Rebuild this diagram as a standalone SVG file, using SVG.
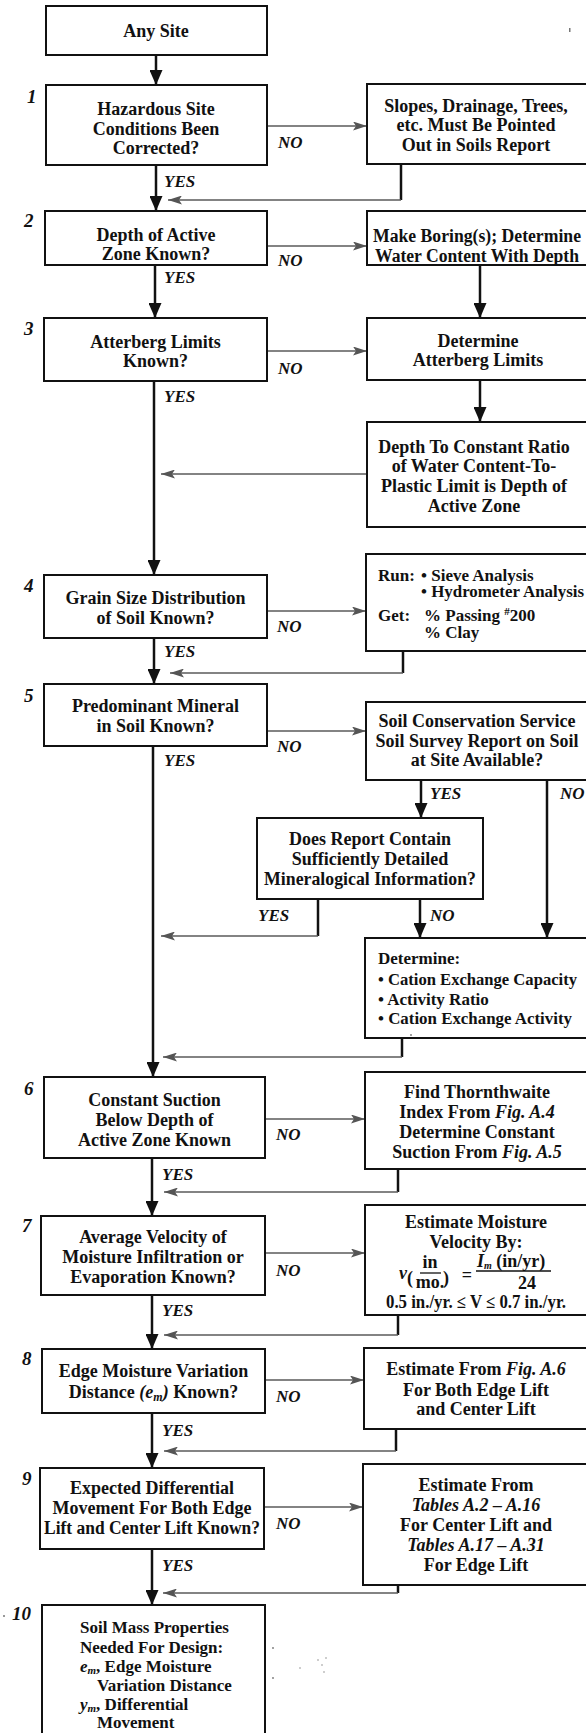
<svg xmlns="http://www.w3.org/2000/svg" width="586" height="1733" viewBox="0 0 586 1733">
  <style>
    .box { fill: #fff; stroke: #111; stroke-width: 2; }
    .t { font-family: "Liberation Serif", "Times New Roman", serif; font-size: 18px; font-weight: bold; fill: #111; text-anchor: middle; }
    .s { font-size: 17px; }
    .l { text-anchor: start; }
    .i { font-style: italic; }
    .lab { font-family: "Liberation Serif", "Times New Roman", serif; font-size: 17px; font-weight: bold; font-style: italic; fill: #111; }
    .num { font-family: "Liberation Serif", "Times New Roman", serif; font-size: 19px; font-weight: bold; font-style: italic; fill: #111; }
    .main { stroke: #111; stroke-width: 2.5; fill: none; }
    .no { stroke: #5a5a5a; stroke-width: 1.6; fill: none; }
    .bar { stroke: #111; stroke-width: 1.3; }
    .speck { fill: #777; }
  </style>
  <defs>
    <marker id="ah" markerUnits="userSpaceOnUse" markerWidth="16" markerHeight="13" refX="15" refY="6.5" orient="auto">
      <path d="M0,0 L15,6.5 L0,13 z" fill="#111"/>
    </marker>
    <marker id="ahg" markerUnits="userSpaceOnUse" markerWidth="15" markerHeight="9" refX="14" refY="4.5" orient="auto">
      <path d="M0,0 L14,4.5 L0,9 L3,4.5 z" fill="#555"/>
    </marker>
  </defs>
  <rect width="586" height="1733" fill="#fff"/>

  <!-- connectors -->
  <g id="connectors">
    <!-- main YES spine -->
    <line class="main" x1="156" y1="55" x2="156" y2="85" marker-end="url(#ah)"/>
    <line class="main" x1="156" y1="165" x2="156" y2="211" marker-end="url(#ah)"/>
    <line class="main" x1="155" y1="265" x2="155" y2="318" marker-end="url(#ah)"/>
    <line class="main" x1="154" y1="381" x2="154" y2="575" marker-end="url(#ah)"/>
    <line class="main" x1="154" y1="638" x2="154" y2="684" marker-end="url(#ah)"/>
    <line class="main" x1="153" y1="746" x2="153" y2="1077" marker-end="url(#ah)"/>
    <line class="main" x1="152" y1="1158" x2="152" y2="1216" marker-end="url(#ah)"/>
    <line class="main" x1="152" y1="1295" x2="152" y2="1349" marker-end="url(#ah)"/>
    <line class="main" x1="152" y1="1413" x2="152" y2="1468" marker-end="url(#ah)"/>
    <line class="main" x1="152" y1="1549" x2="152" y2="1605" marker-end="url(#ah)"/>

    <!-- NO branches -->
    <line class="no" x1="267" y1="126" x2="367" y2="126" marker-end="url(#ahg)"/>
    <line class="no" x1="267" y1="246" x2="367" y2="246" marker-end="url(#ahg)"/>
    <line class="no" x1="267" y1="351" x2="367" y2="351" marker-end="url(#ahg)"/>
    <line class="no" x1="267" y1="611" x2="366" y2="611" marker-end="url(#ahg)"/>
    <line class="no" x1="267" y1="731" x2="366" y2="731" marker-end="url(#ahg)"/>
    <line class="no" x1="265" y1="1119" x2="365" y2="1119" marker-end="url(#ahg)"/>
    <line class="no" x1="265" y1="1253" x2="365" y2="1253" marker-end="url(#ahg)"/>
    <line class="no" x1="265" y1="1380" x2="364" y2="1380" marker-end="url(#ahg)"/>
    <line class="no" x1="264" y1="1507" x2="363" y2="1507" marker-end="url(#ahg)"/>

    <!-- returns to the spine -->
    <line class="main" x1="401" y1="164" x2="401" y2="200"/>
    <line class="no" x1="401" y1="200" x2="168" y2="200" marker-end="url(#ahg)"/>
    <line class="no" x1="367" y1="474" x2="161" y2="474" marker-end="url(#ahg)"/>
    <line class="main" x1="403" y1="651" x2="403" y2="673"/>
    <line class="no" x1="403" y1="673" x2="170" y2="673" marker-end="url(#ahg)"/>
    <line class="main" x1="318" y1="899" x2="318" y2="936"/>
    <line class="no" x1="318" y1="936" x2="161" y2="936" marker-end="url(#ahg)"/>
    <line class="main" x1="402" y1="1038" x2="402" y2="1057"/>
    <line class="no" x1="402" y1="1057" x2="163" y2="1057" marker-end="url(#ahg)"/>
    <line class="main" x1="398" y1="1169" x2="398" y2="1192"/>
    <line class="no" x1="398" y1="1192" x2="164" y2="1192" marker-end="url(#ahg)"/>
    <line class="main" x1="398" y1="1315" x2="398" y2="1335"/>
    <line class="no" x1="398" y1="1335" x2="164" y2="1335" marker-end="url(#ahg)"/>
    <line class="main" x1="396" y1="1429" x2="396" y2="1451"/>
    <line class="no" x1="396" y1="1451" x2="164" y2="1451" marker-end="url(#ahg)"/>
    <line class="main" x1="398" y1="1585" x2="398" y2="1593"/>
    <line class="no" x1="398" y1="1593" x2="163" y2="1593" marker-end="url(#ahg)"/>

    <!-- right-hand column links -->
    <line class="main" x1="480" y1="265" x2="480" y2="318" marker-end="url(#ah)"/>
    <line class="main" x1="480" y1="380" x2="480" y2="422" marker-end="url(#ah)"/>
    <line class="main" x1="421" y1="780" x2="421" y2="818" marker-end="url(#ah)"/>
    <line class="main" x1="547" y1="780" x2="547" y2="938" marker-end="url(#ah)"/>
    <line class="main" x1="420" y1="899" x2="420" y2="938" marker-end="url(#ah)"/>

    <!-- branch labels -->
    <text class="lab" x="164" y="187">YES</text>
    <text class="lab" x="164" y="283">YES</text>
    <text class="lab" x="164" y="402">YES</text>
    <text class="lab" x="164" y="657">YES</text>
    <text class="lab" x="164" y="766">YES</text>
    <text class="lab" x="162" y="1180">YES</text>
    <text class="lab" x="162" y="1316">YES</text>
    <text class="lab" x="162" y="1436">YES</text>
    <text class="lab" x="162" y="1571">YES</text>
    <text class="lab" x="278" y="148">NO</text>
    <text class="lab" x="278" y="266">NO</text>
    <text class="lab" x="278" y="374">NO</text>
    <text class="lab" x="277" y="632">NO</text>
    <text class="lab" x="277" y="752">NO</text>
    <text class="lab" x="276" y="1140">NO</text>
    <text class="lab" x="276" y="1276">NO</text>
    <text class="lab" x="276" y="1402">NO</text>
    <text class="lab" x="276" y="1529">NO</text>
    <text class="lab" x="430" y="799">YES</text>
    <text class="lab" x="560" y="799">NO</text>
    <text class="lab" x="258" y="921">YES</text>
    <text class="lab" x="430" y="921">NO</text>
  </g>

  <!-- step numbers -->
  <g id="step-numbers">
    <text class="num" x="27" y="103">1</text>
    <text class="num" x="24" y="227">2</text>
    <text class="num" x="24" y="335">3</text>
    <text class="num" x="24" y="592">4</text>
    <text class="num" x="24" y="702">5</text>
    <text class="num" x="24" y="1095">6</text>
    <text class="num" x="22" y="1232">7</text>
    <text class="num" x="22" y="1365">8</text>
    <text class="num" x="22" y="1485">9</text>
    <text class="num" x="12" y="1620">10</text>
  </g>

  <!-- left column -->
  <g id="any-site">
    <rect class="box" x="46" y="6" width="221" height="49"/>
    <text class="t" x="156" y="37">Any Site</text>
  </g>
  <g id="q1-hazards">
    <rect class="box" x="46" y="85" width="221" height="80"/>
    <text class="t" x="156" y="115">Hazardous Site</text>
    <text class="t" x="156" y="134.5">Conditions Been</text>
    <text class="t" x="156" y="154">Corrected?</text>
  </g>
  <g id="q2-active-zone">
    <rect class="box" x="45" y="211" width="222" height="54"/>
    <text class="t" x="156" y="241">Depth of Active</text>
    <text class="t" x="156" y="260">Zone Known?</text>
  </g>
  <g id="q3-atterberg">
    <rect class="box" x="44" y="318" width="223" height="63"/>
    <text class="t" x="155.5" y="348">Atterberg Limits</text>
    <text class="t" x="155.5" y="367">Known?</text>
  </g>
  <g id="q4-grain-size">
    <rect class="box" x="44" y="575" width="223" height="63"/>
    <text class="t" x="155.5" y="604">Grain Size Distribution</text>
    <text class="t" x="155.5" y="624">of Soil Known?</text>
  </g>
  <g id="q5-mineral">
    <rect class="box" x="44" y="684" width="223" height="62"/>
    <text class="t" x="155.5" y="712">Predominant Mineral</text>
    <text class="t" x="155.5" y="732">in Soil Known?</text>
  </g>
  <g id="q6-suction">
    <rect class="box" x="44" y="1077" width="221" height="81"/>
    <text class="t" x="154.5" y="1106">Constant Suction</text>
    <text class="t" x="154.5" y="1126">Below Depth of</text>
    <text class="t" x="154.5" y="1146">Active Zone Known</text>
  </g>
  <g id="q7-velocity">
    <rect class="box" x="41" y="1216" width="224" height="79"/>
    <text class="t" x="153" y="1243">Average Velocity of</text>
    <text class="t" x="153" y="1263">Moisture Infiltration or</text>
    <text class="t" x="153" y="1283">Evaporation Known?</text>
  </g>
  <g id="q8-edge-distance">
    <rect class="box" x="42" y="1349" width="223" height="64"/>
    <text class="t" x="153.5" y="1377">Edge Moisture Variation</text>
    <text class="t" x="153.5" y="1398">Distance <tspan class="i">(e<tspan font-size="12" dy="3">m</tspan><tspan dy="-3">)</tspan></tspan> Known?</text>
  </g>
  <g id="q9-movement">
    <rect class="box" x="40" y="1468" width="224" height="81"/>
    <text class="t" x="152" y="1494">Expected Differential</text>
    <text class="t" x="152" y="1514">Movement For Both Edge</text>
    <text class="t" x="152" y="1534" textLength="216" lengthAdjust="spacingAndGlyphs">Lift and Center Lift Known?</text>
  </g>
  <g id="step10-properties">
    <path class="box" d="M42,1740 V1605 H265 V1740"/>
    <text class="t l s" x="80" y="1633">Soil Mass Properties</text>
    <text class="t l s" x="80" y="1653">Needed For Design:</text>
    <text class="t l s" x="80" y="1672"><tspan class="i">e<tspan font-size="11" dy="2">m</tspan></tspan><tspan dy="-2">, Edge Moisture</tspan></text>
    <text class="t l s" x="97" y="1691">Variation Distance</text>
    <text class="t l s" x="80" y="1710"><tspan class="i">y<tspan font-size="11" dy="2">m</tspan></tspan><tspan dy="-2">, Differential</tspan></text>
    <text class="t l s" x="97" y="1728">Movement</text>
  </g>

  <!-- right column -->
  <g id="r1-soils-report">
    <rect class="box" x="367" y="84" width="225" height="80"/>
    <text class="t" x="476" y="112">Slopes, Drainage, Trees,</text>
    <text class="t" x="476" y="131">etc. Must Be Pointed</text>
    <text class="t" x="476" y="151">Out in Soils Report</text>
  </g>
  <g id="r2-boring">
    <rect class="box" x="367" y="211" width="225" height="54"/>
    <text class="t" x="477" y="242" textLength="208" lengthAdjust="spacingAndGlyphs">Make Boring(s); Determine</text>
    <text class="t" x="477" y="262" textLength="204" lengthAdjust="spacingAndGlyphs">Water Content With Depth</text>
  </g>
  <g id="r3-limits">
    <rect class="box" x="367" y="318" width="225" height="62"/>
    <text class="t" x="478" y="347">Determine</text>
    <text class="t" x="478" y="366">Atterberg Limits</text>
  </g>
  <g id="r3-depth-ratio">
    <rect class="box" x="367" y="422" width="225" height="105"/>
    <text class="t" x="474" y="453">Depth To Constant Ratio</text>
    <text class="t" x="474" y="472">of Water Content-To-</text>
    <text class="t" x="474" y="492">Plastic Limit is Depth of</text>
    <text class="t" x="474" y="512">Active Zone</text>
  </g>
  <g id="r4-gradation">
    <rect class="box" x="366" y="554" width="226" height="97"/>
    <text class="t l s" x="378" y="581">Run:</text>
    <text class="t l s" x="421" y="581">• Sieve Analysis</text>
    <text class="t l s" x="421" y="597" textLength="163" lengthAdjust="spacingAndGlyphs">• Hydrometer Analysis</text>
    <text class="t l s" x="378" y="621">Get:</text>
    <text class="t l s" x="424" y="621">% Passing <tspan font-size="11" dy="-6">#</tspan><tspan dy="6">200</tspan></text>
    <text class="t l s" x="424" y="638">% Clay</text>
  </g>
  <g id="r5-survey">
    <rect class="box" x="366" y="702" width="226" height="78"/>
    <text class="t" x="477" y="727">Soil Conservation Service</text>
    <text class="t" x="477" y="747">Soil Survey Report on Soil</text>
    <text class="t" x="477" y="766">at Site Available?</text>
  </g>
  <g id="r5-report-detail">
    <rect class="box" x="257" y="818" width="226" height="81"/>
    <text class="t" x="370" y="845">Does Report Contain</text>
    <text class="t" x="370" y="865">Sufficiently Detailed</text>
    <text class="t" x="370" y="885" textLength="212" lengthAdjust="spacingAndGlyphs">Mineralogical  Information?</text>
  </g>
  <g id="r5-determine">
    <rect class="box" x="365" y="938" width="227" height="100"/>
    <text class="t l s" x="378" y="964">Determine:</text>
    <text class="t l s" x="378" y="985" textLength="199" lengthAdjust="spacingAndGlyphs">• Cation Exchange Capacity</text>
    <text class="t l s" x="378" y="1005">• Activity Ratio</text>
    <text class="t l s" x="378" y="1024" textLength="194" lengthAdjust="spacingAndGlyphs">• Cation Exchange Activity</text>
  </g>
  <g id="r6-thornthwaite">
    <rect class="box" x="365" y="1072" width="227" height="97"/>
    <text class="t" x="477" y="1098">Find Thornthwaite</text>
    <text class="t" x="477" y="1118">Index From <tspan class="i">Fig. A.4</tspan></text>
    <text class="t" x="477" y="1138">Determine Constant</text>
    <text class="t" x="477" y="1158">Suction From <tspan class="i">Fig. A.5</tspan></text>
  </g>
  <g id="r7-velocity">
    <rect class="box" x="365" y="1205" width="227" height="110"/>
    <text class="t" x="476" y="1228">Estimate Moisture</text>
    <text class="t" x="476" y="1248">Velocity By:</text>
    <!-- v(in/mo) = Im(in/yr)/24 -->
    <text class="t i l" x="399" y="1279" font-size="17">v</text>
    <text class="t l" x="407" y="1284" font-size="36" font-weight="normal">(</text>
    <text class="t l" x="443" y="1284" font-size="36" font-weight="normal">)</text>
    <text class="t" x="430" y="1268" font-size="14">in</text>
    <line class="bar" x1="420" y1="1273" x2="441" y2="1273"/>
    <text class="t" x="430" y="1288" font-size="14">mo.</text>
    <text class="t" x="467" y="1281" font-size="16">=</text>
    <text class="t l" x="477" y="1267" font-size="14"><tspan class="i">I<tspan font-size="10" dy="2">m</tspan></tspan><tspan dy="-2"> (in/yr)</tspan></text>
    <line class="bar" x1="476" y1="1271" x2="551" y2="1271"/>
    <text class="t" x="527" y="1289" font-size="14">24</text>
    <text class="t" x="476" y="1308" font-size="16" textLength="180" lengthAdjust="spacingAndGlyphs">0.5 in./yr. ≤ V ≤ 0.7 in./yr.</text>
  </g>
  <g id="r8-edge-lift">
    <rect class="box" x="364" y="1348" width="228" height="81"/>
    <text class="t" x="476" y="1375">Estimate From <tspan class="i">Fig. A.6</tspan></text>
    <text class="t" x="476" y="1396">For Both Edge Lift</text>
    <text class="t" x="476" y="1415">and Center Lift</text>
  </g>
  <g id="r9-tables">
    <rect class="box" x="363" y="1464" width="229" height="121"/>
    <text class="t" x="476" y="1491">Estimate From</text>
    <text class="t i" x="476" y="1511">Tables A.2 – A.16</text>
    <text class="t" x="476" y="1531">For Center Lift and</text>
    <text class="t i" x="476" y="1551">Tables A.17 – A.31</text>
    <text class="t" x="476" y="1571">For Edge Lift</text>
  </g>

  <!-- stray print marks -->
  <g id="marks">
    <rect class="speck" x="569" y="28" width="1.5" height="4"/>
    <circle class="speck" cx="4" cy="1616" r="1"/>
    <circle class="speck" cx="273" cy="1648" r="0.9"/>
    <circle class="speck" cx="273" cy="1678" r="0.9"/>
    <circle class="speck" cx="300" cy="1668" r="0.7"/>
    <circle class="speck" cx="318" cy="1660" r="0.7"/>
    <circle class="speck" cx="322" cy="1665" r="0.7"/>
    <circle class="speck" cx="326" cy="1658" r="0.7"/>
    <circle class="speck" cx="324" cy="1672" r="0.7"/>
    <circle class="speck" cx="411" cy="1035" r="0.9"/>
  </g>
</svg>
